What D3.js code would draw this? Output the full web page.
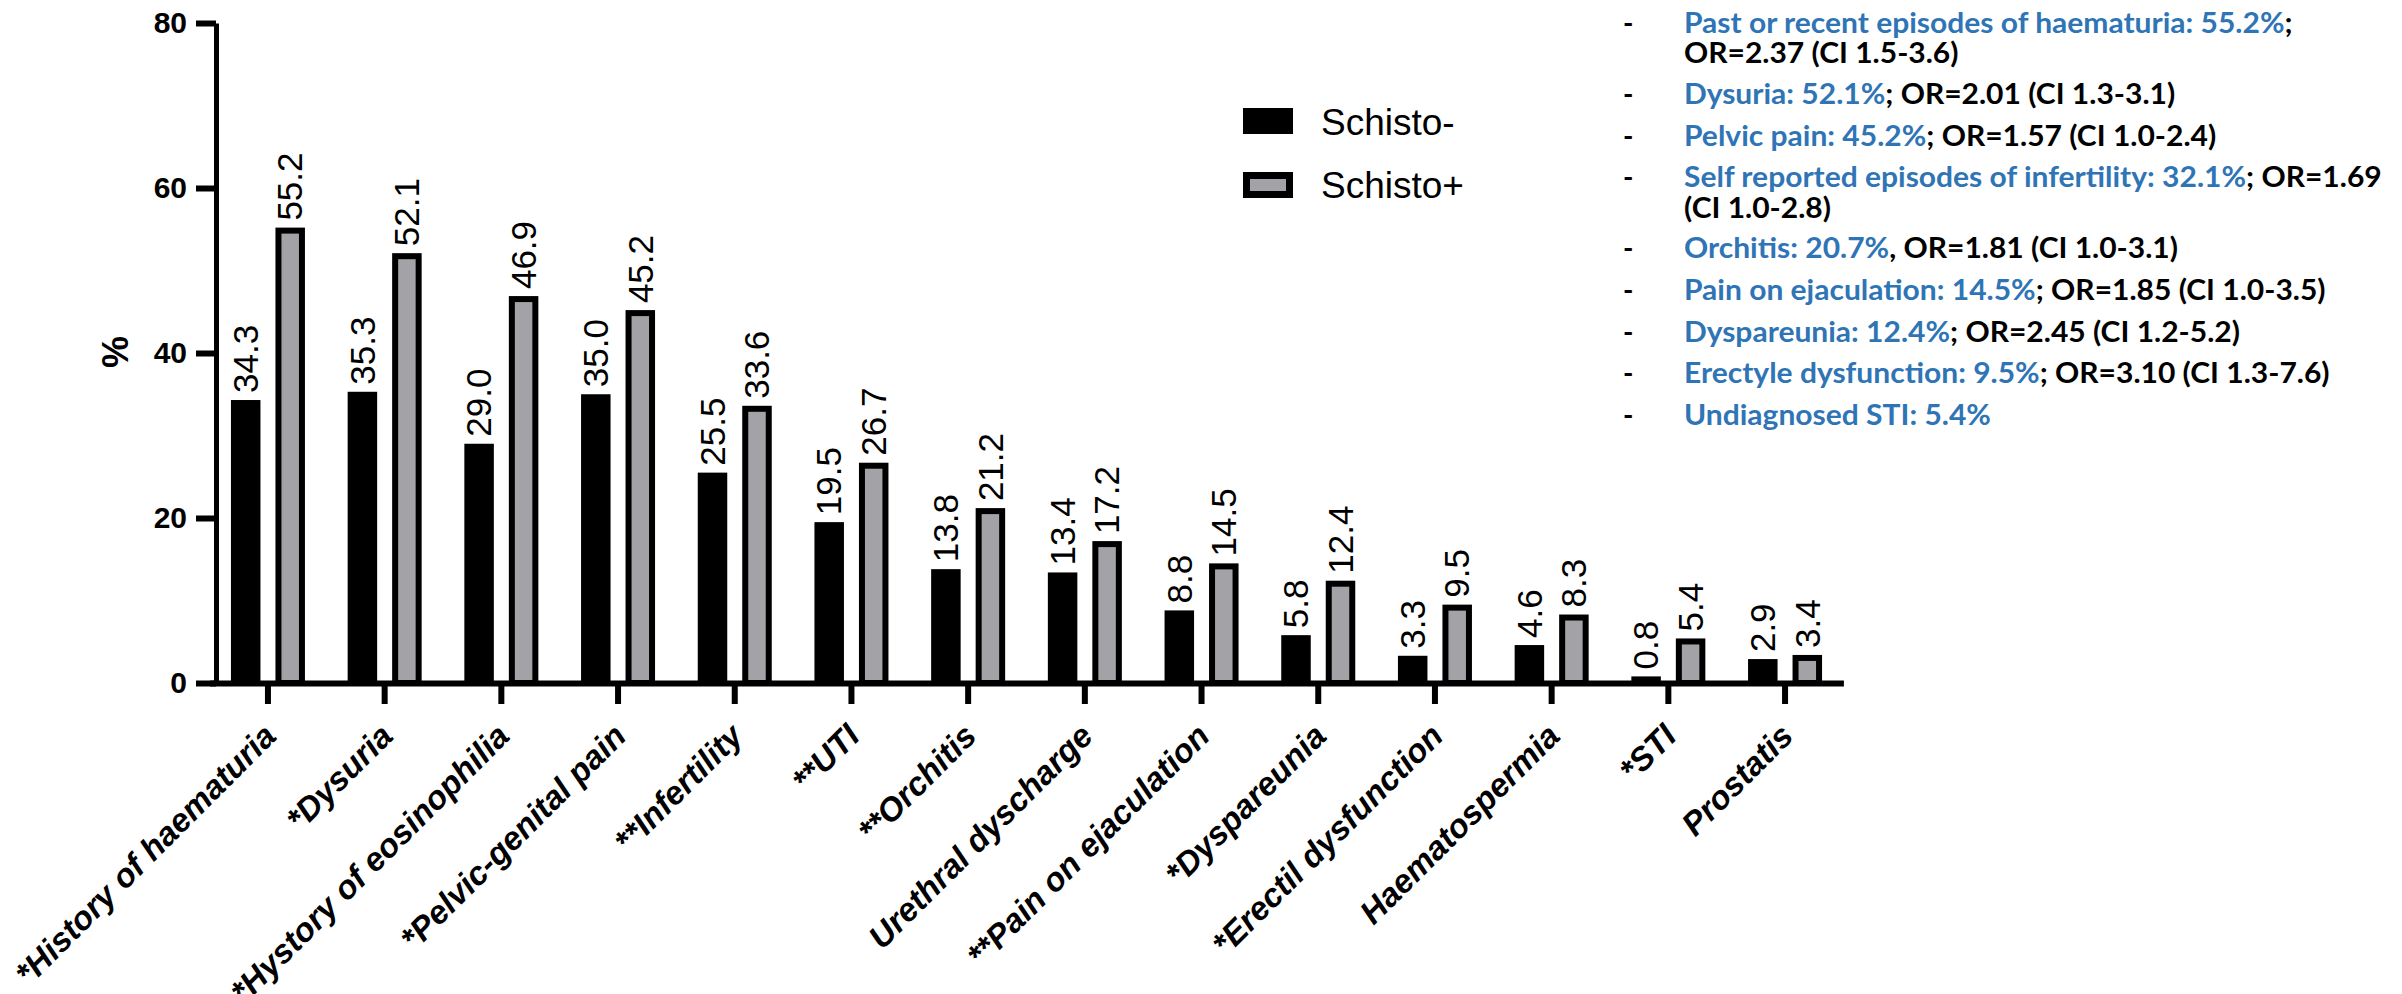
<!DOCTYPE html>
<html>
<head>
<meta charset="utf-8">
<script src="https://cdn.jsdelivr.net/npm/d3@7"></script>
<style>
  html, body { margin: 0; padding: 0; background: #fff; }
  svg { display: block; }
</style>
</head>
<body>
<svg id="chart" width="2402" height="994"></svg>
<script>
// Symptom categories (x axis), in plotting order
const categories = [
  "*History of haematuria", "*Dysuria", "*Hystory of eosinophilia", "*Pelvic-genital pain",
  "**Infertility", "**UTI", "**Orchitis", "Urethral dyscharge", "**Pain on ejaculation",
  "*Dyspareunia", "*Erectil dysfunction", "Haematospermia", "*STI", "Prostatis"
];

// Prevalence (%) per group
const schistoNeg = [34.3, 35.3, 29.0, 35.0, 25.5, 19.5, 13.8, 13.4, 8.8, 5.8, 3.3, 4.6, 0.8, 2.9];
const schistoPos = [55.2, 52.1, 46.9, 45.2, 33.6, 26.7, 21.2, 17.2, 14.5, 12.4, 9.5, 8.3, 5.4, 3.4];

const seriesNames = ["Schisto-", "Schisto+"];
const yTicks = [0, 20, 40, 60, 80];
const yLabel = "%";

// Side notes: [highlighted part, plain part] per line; bullet:false marks a wrapped continuation
const noteLines = [
  { bullet: true,  parts: ["Past or recent episodes of haematuria: 55.2%", ";"] },
  { bullet: false, parts: ["", "OR=2.37 (CI 1.5-3.6)"] },
  { bullet: true,  parts: ["Dysuria: 52.1%", "; OR=2.01 (CI 1.3-3.1)"] },
  { bullet: true,  parts: ["Pelvic pain: 45.2%", "; OR=1.57 (CI 1.0-2.4)"] },
  { bullet: true,  parts: ["Self reported episodes of infertility: 32.1%", "; OR=1.69"] },
  { bullet: false, parts: ["", "(CI 1.0-2.8)"] },
  { bullet: true,  parts: ["Orchitis: 20.7%", ", OR=1.81 (CI 1.0-3.1)"] },
  { bullet: true,  parts: ["Pain on ejaculation: 14.5%", "; OR=1.85 (CI 1.0-3.5)"] },
  { bullet: true,  parts: ["Dyspareunia: 12.4%", "; OR=2.45 (CI 1.2-5.2)"] },
  { bullet: true,  parts: ["Erectyle dysfunction: 9.5%", "; OR=3.10 (CI 1.3-7.6)"] },
  { bullet: true,  parts: ["Undiagnosed STI: 5.4%", ""] }
];
const noteBaselines = [33, 63, 104, 146, 187, 218, 258, 300, 342, 383, 425];

const data = categories.map((c, i) => ({ cat: c, vals: [
  { key: seriesNames[0], v: schistoNeg[i] },
  { key: seriesNames[1], v: schistoPos[i] }
]}));

const svg = d3.select("#chart");
const FONT = "'Liberation Sans', Arial, Helvetica, sans-serif";
const GRAY = "#a3a2a7";

// Scales
const y = d3.scaleLinear().domain([0, 80]).range([683, 23]);
const x0 = d3.scaleBand().domain(categories).range([209.6, 1843.4]).paddingInner(0).paddingOuter(0);
const half = x0.bandwidth() / 2;
const x1 = d3.scaleBand().domain(seriesNames).range([half - 37, half + 37]).paddingInner(15 / 44.5).paddingOuter(0);

// Bars
const groups = svg.append("g").selectAll("g")
  .data(data).join("g")
  .attr("transform", d => `translate(${x0(d.cat)},0)`);

groups.selectAll("rect")
  .data(d => d.vals).join("rect")
  .each(function(d) {
    const r = d3.select(this);
    const bx = x1(d.key), bw = x1.bandwidth();
    if (d.key === seriesNames[0]) {
      r.attr("x", bx).attr("y", y(d.v)).attr("width", bw).attr("height", y(0) - y(d.v))
       .attr("fill", "#000");
    } else {
      r.attr("x", bx + 3).attr("y", y(d.v) + 3).attr("width", bw - 6)
       .attr("height", Math.max(0, y(0) - y(d.v) - 3))
       .attr("fill", GRAY).attr("stroke", "#000").attr("stroke-width", 6);
    }
  });

// Value labels, rotated
const fmt = d3.format(".1f");
groups.selectAll("text.val")
  .data(d => d.vals).join("text")
  .attr("class", "val")
  .attr("transform", d => `translate(${x1(d.key) + x1.bandwidth() / 2},${y(d.v) - 7}) rotate(-90)`)
  .attr("dy", "0.35em")
  .attr("text-anchor", "start")
  .attr("font-family", FONT)
  .attr("font-size", 35)
  .attr("fill", "#000")
  .text(d => fmt(d.v));

// Y axis
const yAxis = svg.append("g")
  .attr("transform", "translate(216,0)")
  .call(d3.axisLeft(y).tickValues(yTicks).tickFormat(d3.format("d")).tickSize(20).tickSizeOuter(0).tickPadding(9));
yAxis.select(".domain").attr("stroke", "#000").attr("stroke-width", 5);
yAxis.selectAll(".tick line").attr("stroke", "#000").attr("stroke-width", 6);
yAxis.selectAll(".tick text")
  .attr("font-family", FONT).attr("font-weight", "bold").attr("font-size", 30).attr("fill", "#000");

svg.append("text")
  .attr("transform", "translate(115,352) rotate(-90)")
  .attr("text-anchor", "middle")
  .attr("dy", "0.35em")
  .attr("font-family", FONT).attr("font-weight", "bold").attr("font-size", 36)
  .text(yLabel);

// X axis
const xAxis = svg.append("g")
  .attr("transform", `translate(0,${y(0)})`)
  .call(d3.axisBottom(x0).tickSize(21).tickSizeOuter(0));
xAxis.select(".domain").attr("stroke", "#000").attr("stroke-width", 6);
xAxis.selectAll(".tick line").attr("stroke", "#000").attr("stroke-width", 6);
xAxis.selectAll(".tick text")
  .attr("x", 0).attr("y", 0).attr("dy", 0)
  .attr("transform", "translate(10,55) rotate(-45)")
  .attr("text-anchor", "end")
  .attr("font-family", FONT).attr("font-weight", "bold").attr("font-style", "italic")
  .attr("font-size", 33).attr("fill", "#000");

// Legend
const legend = svg.append("g");
legend.append("rect").attr("x", 1243).attr("y", 108).attr("width", 50).attr("height", 26).attr("fill", "#000");
legend.append("rect").attr("x", 1246.5).attr("y", 175.5).attr("width", 43).attr("height", 19)
  .attr("fill", GRAY).attr("stroke", "#000").attr("stroke-width", 7);
legend.selectAll("text").data(seriesNames).join("text")
  .attr("x", 1321).attr("y", (d, i) => i === 0 ? 135 : 198)
  .attr("font-family", FONT).attr("font-size", 37).attr("fill", "#000")
  .text(d => d);

// Side notes
const NOTE_FONT = "Lato, 'Noto Sans', sans-serif";
const notes = svg.append("g");
const bullets = notes.append("g");
bullets.selectAll("text").data(noteLines.map((d, i) => ({ d, i })).filter(o => o.d.bullet)).join("text")
  .attr("x", 1623).attr("y", o => noteBaselines[o.i])
  .attr("font-family", NOTE_FONT).attr("font-weight", "bold").attr("font-size", 28).attr("fill", "#000")
  .text("-");

const body = notes.append("g");
const lines = body.selectAll("text").data(noteLines).join("text")
  .attr("x", 0).attr("y", (d, i) => noteBaselines[i])
  .attr("font-family", NOTE_FONT).attr("font-weight", "bold").attr("font-size", 28.5);
lines.each(function(d) {
  const t = d3.select(this);
  if (d.parts[0]) t.append("tspan").attr("fill", "#2f75b6").text(d.parts[0]);
  if (d.parts[1]) t.append("tspan").attr("fill", "#000").text(d.parts[1]);
});
// Condense the note text so the first line spans its column
const natural = lines.node().getComputedTextLength();
const sx = natural > 0 ? 609 / natural : 1;
body.attr("transform", `translate(1684,0) scale(${sx},1)`);
</script>
</body>
</html>
